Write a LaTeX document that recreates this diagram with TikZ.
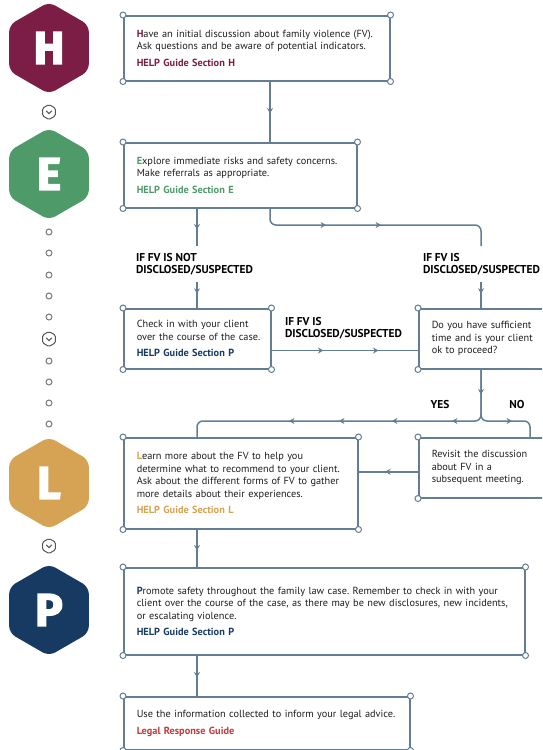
\documentclass[tikz,border=0pt]{standalone}
\usepackage{fontspec}
\setmainfont{PT Sans}
\newfontfamily\hexfont[BoldFeatures={FakeBold=3}]{Fira Sans}
\usetikzlibrary{calc,arrows.meta,decorations.markings,shapes.geometric}
\definecolor{hcol}{HTML}{7B1D45}
\definecolor{ecol}{HTML}{4E9A69}
\definecolor{lcol}{HTML}{D6A253}
\definecolor{pcol}{HTML}{173A63}
\definecolor{lnk}{HTML}{637D95}
\definecolor{icon}{HTML}{555555}
\definecolor{txt}{HTML}{1E1E1E}
\definecolor{redc}{HTML}{C23B3B}
\newcommand{\fl}[2]{\textbf{\color{#1}#2}}
\newcommand{\lnx}[1]{\mbox{#1}}
\frenchspacing
\begin{document}
\begin{tikzpicture}[x=1pt,y=-1pt,
  >={Stealth[length=5.5pt,width=6pt]},
  box/.style={draw=lnk, line width=1.5pt, fill=white, inner xsep=13pt, inner ysep=0pt,
    align=left, anchor=north west, font=\fontsize{10.3}{12.5}\selectfont, text=txt},
  conn/.style={draw=lnk, color=lnk, line width=1.5pt, rounded corners=6pt},
  amid/.style={postaction={decorate, decoration={markings, mark=at position #1 with {\arrow{>}}}}},
  lbl/.style={font=\bfseries\fontsize{11.4}{12}\selectfont, text=black, align=left,
    inner sep=0pt, outer xsep=0pt, outer ysep=7pt, anchor=north west},
  hexa/.style={regular polygon, regular polygon sides=6, regular polygon rotate=30,
    minimum size=92pt, inner sep=0pt, rounded corners=7pt, text=white,
    font=\hexfont\bfseries\fontsize{46}{46}\selectfont},
  chev/.style={regular polygon, regular polygon sides=6, regular polygon rotate=30,
    minimum size=15pt, inner sep=0pt, draw=icon, line width=1pt, rounded corners=1.5pt},
  chevv/.style={draw=icon, line width=1pt},
  dotc/.style={circle, draw=icon!80, line width=1pt, minimum size=6pt, inner sep=0pt},
  cornerc/.style={draw=lnk, fill=white, line width=1pt}
]
\useasboundingbox (0,0) rectangle (542,750);
\clip (0,0) rectangle (542,750);

% left column
\node[hexa, fill=hcol] (hH) at (49,48) {H};
\node[hexa, fill=ecol] (hE) at (49,174) {E};
\node[hexa, fill=lcol] (hL) at (49,483) {L};
\node[hexa, fill=pcol] (hP) at (49,610) {P};
\foreach \yy/\nm in {112/c1,339/c2,546/c3}{
  \node[chev] (\nm) at (49,\yy) {};
  \draw[chevv] ($(\nm.center)+(-2.8,-1.2)$) -- ($(\nm.center)+(0,1.6)$) -- ($(\nm.center)+(2.8,-1.2)$);
}
\foreach \yy [count=\i] in {232,253,275,296,317,361,382,403,424}
  \node[dotc] (dot\i) at (49,\yy) {};

% boxes
\node[box, text width=240pt, minimum height=65pt] (hbox) at (123,15)
 {\lnx{\fl{hcol}{H}ave an initial discussion about family violence (FV).}\\
  \lnx{Ask questions and be aware of potential indicators.}\\[4pt]
  \textbf{\color{hcol}HELP Guide Section H}};
\node[box, text width=207pt, minimum height=65pt] (ebox) at (123,142)
 {\lnx{\fl{ecol}{E}xplore immediate risks and safety concerns.}\\
  \lnx{Make referrals as appropriate.}\\[4pt]
  \textbf{\color{ecol}HELP Guide Section E}};
\node[box, text width=121pt, minimum height=60pt] (cbox) at (123,308)
 {\lnx{Check in with your client}\\
  \lnx{over the course of the case.}\\[4pt]
  \textbf{\color{pcol}HELP Guide Section P}};
\node[box, text width=101pt, minimum height=60pt] (qbox) at (418,308)
 {\lnx{Do you have sufficient}\\ \lnx{time and is your client}\\ \lnx{ok to proceed?}};
\node[box, text width=208pt, minimum height=91pt] (lbox) at (123,437)
 {\lnx{\fl{lcol}{L}earn more about the FV to help you}\\
  \lnx{determine what to recommend to your client.}\\
  \lnx{Ask about the different forms of FV to gather}\\
  \lnx{more details about their experiences.}\\[4pt]
  \textbf{\color{lcol}HELP Guide Section L}};
\node[box, text width=101pt, minimum height=60pt] (rbox) at (418,437)
 {\lnx{Revisit the discussion}\\ \lnx{about FV in a}\\ \lnx{subsequent meeting.}};
\node[box, text width=375pt, minimum height=87pt] (pbox) at (123,567)
 {\lnx{\fl{pcol}{P}romote safety throughout the family law case. Remember to check in with your}\\
  \lnx{client over the course of the case, as there may be new disclosures, new incidents,}\\
  \lnx{or escalating violence.}\\[4pt]
  \textbf{\color{pcol}HELP Guide Section P}};
\node[box, text width=260pt, minimum height=53pt] (fbox) at (123,696)
 {\lnx{Use the information collected to inform your legal advice.}\\[4pt]
  \textbf{\color{redc}Legal Response Guide}};

% labels
\node[lbl] (nl) at (136,246) {IF FV IS NOT\\DISCLOSED/SUSPECTED};
\node[lbl] (dl) at (423,246) {IF FV IS\\DISCLOSED/SUSPECTED};
\node[lbl, outer ysep=0pt] (ml) at (285,317) {IF FV IS\\DISCLOSED/SUSPECTED};
\node[lbl, outer ysep=0pt, anchor=center] (yes) at (440,405) {YES};
\node[lbl, outer ysep=0pt, anchor=center] (no) at (517,405) {NO};

% connectors
\coordinate (cx) at (197,0);
\coordinate (hx) at (270,0);
\coordinate (rx) at (481,0);
\coordinate (rturn) at (481,225);
\coordinate (fork) at (481,421);
\coordinate (nox) at (530,0);
\draw[conn, amid=32pt] (hbox.south -| hx) -- (ebox.north -| hx);
\draw[conn, amid=21pt] (ebox.south -| cx) -- (nl.north -| cx);
\draw[conn, amid=12pt] (nl.south -| cx) -- (cbox.north -| cx);
\draw[conn, amid=70pt, amid=125pt] (ebox.south -| hx) |- (rturn) -- (dl.north -| rx);
\draw[conn, amid=12pt] (dl.south -| rx) -- (qbox.north -| rx);
\draw[conn, amid=52pt, amid=107pt] ($(cbox.south east)+(0,-19)$) -- ($(qbox.south west)+(0,-19)$);
\draw[conn, amid=25pt, amid=78pt, amid=138pt, amid=191pt, amid=241pt]
  (qbox.south -| rx) -- (fork) -| (lbox.north -| cx);
\draw[conn, amid=80pt] (qbox.south -| rx) -- (fork) -| (rbox.north -| nox);
\coordinate (rw) at ($(rbox.west)+(0,4)$);
\draw[conn, amid=33pt] (rw) -- (rw -| lbox.east);
\draw[conn, amid=21pt] (lbox.south -| cx) -- (pbox.north -| cx);
\draw[conn, amid=22pt] (pbox.south -| cx) -- (fbox.north -| cx);

% corner circles
\foreach \b in {hbox,ebox,cbox,qbox,lbox,rbox,pbox,fbox}
  \foreach \c in {north west,north east,south west,south east}
    \draw[cornerc] (\b.\c) circle (3pt);
\end{tikzpicture}
\end{document}
